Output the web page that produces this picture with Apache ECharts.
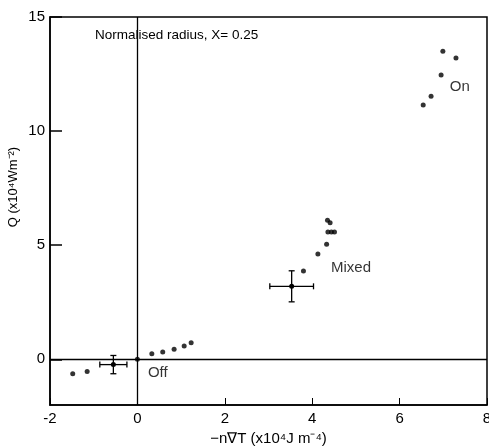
<!DOCTYPE html>
<html><head><meta charset="utf-8">
<script src="https://cdn.jsdelivr.net/npm/echarts@6/dist/echarts.min.js"></script>
<style>html,body{margin:0;padding:0;background:#fff}#c{width:489px;height:447px}</style>
</head><body><div id="c"></div>
<script>
const xTicks = [-2, 0, 2, 4, 6, 8];
const yTicks = [0, 5, 10, 15];
const offPoints = [[-1.48, -0.63], [-1.15, -0.53], [0, 0], [0.33, 0.25], [0.58, 0.32], [0.84, 0.44], [1.07, 0.58], [1.23, 0.73]];
const mixedPoints = [[3.80, 3.87], [4.13, 4.62], [4.33, 5.04], [4.36, 5.58], [4.44, 5.58], [4.51, 5.58], [4.35, 6.10], [4.41, 5.98]];
const onPoints = [[6.54, 11.14], [6.72, 11.53], [6.95, 12.46], [6.99, 13.5], [7.29, 13.2]];
// error bars: [x, y, xErr, yErr]
const errorBars = [[-0.55, -0.23, 0.31, 0.40], [3.53, 3.20, 0.50, 0.68]];
const groupLabels = [["On", 7.15, 11.93], ["Mixed", 4.43, 4.03], ["Off", 0.24, -0.61]];

const chart = echarts.init(document.getElementById('c'));
const font = 'Liberation Sans, Arial, sans-serif';
const dot = {type: 'scatter', symbol: 'circle', symbolSize: 5, itemStyle: {color: '#000'}, silent: true};
chart.setOption({
  animation: false,
  textStyle: {fontFamily: font},
  grid: {left: 50, right: 2, top: 17, bottom: 42, show: true, borderColor: '#000', borderWidth: 1.5, outerBoundsMode: 'none', containLabel: false},
  xAxis: {
    type: 'value', min: -2, max: 8,
    axisLine: {onZero: false, lineStyle: {color: '#000', width: 1.5}},
    axisTick: {inside: true, length: 7, customValues: xTicks, lineStyle: {color: '#000'}},
    axisLabel: {customValues: xTicks, color: '#000', fontSize: 15, margin: 6},
    splitLine: {show: false},
    name: '\u2212n\u2207T (x10\u2074J m\u207B\u2074)', nameLocation: 'middle', nameGap: 23,
    nameTextStyle: {color: '#000', fontSize: 15}
  },
  yAxis: {
    type: 'value', min: -2, max: 15,
    axisLine: {onZero: false, lineStyle: {color: '#000', width: 1.5}},
    axisTick: {inside: true, length: 12, customValues: yTicks, lineStyle: {color: '#000', width: 1.5}},
    axisLabel: {customValues: yTicks, color: '#000', fontSize: 15, margin: 5},
    splitLine: {show: false}
  },
  series: [
    Object.assign({}, dot, {data: offPoints,
      markLine: {silent: true, symbol: 'none', label: {show: false},
        lineStyle: {color: '#000', width: 1.3, type: 'solid'},
        data: [{xAxis: 0}, {yAxis: 0}]}}),
    Object.assign({}, dot, {data: mixedPoints}),
    Object.assign({}, dot, {data: onPoints}),
    {
      type: 'custom', silent: true, data: errorBars,
      renderItem: function (params, api) {
        const x = api.value(0), y = api.value(1), dx = api.value(2), dy = api.value(3);
        const c = api.coord([x, y]);
        const l = api.coord([x - dx, y]), r = api.coord([x + dx, y]);
        const t = api.coord([x, y + dy]), b = api.coord([x, y - dy]);
        const cap = 3;
        const st = {stroke: '#000', lineWidth: 1.3};
        return {type: 'group', children: [
          {type: 'line', shape: {x1: l[0], y1: l[1], x2: r[0], y2: r[1]}, style: st},
          {type: 'line', shape: {x1: t[0], y1: t[1], x2: b[0], y2: b[1]}, style: st},
          {type: 'line', shape: {x1: l[0], y1: l[1] - cap, x2: l[0], y2: l[1] + cap}, style: st},
          {type: 'line', shape: {x1: r[0], y1: r[1] - cap, x2: r[0], y2: r[1] + cap}, style: st},
          {type: 'line', shape: {x1: t[0] - cap, y1: t[1], x2: t[0] + cap, y2: t[1]}, style: st},
          {type: 'line', shape: {x1: b[0] - cap, y1: b[1], x2: b[0] + cap, y2: b[1]}, style: st},
          {type: 'circle', shape: {cx: c[0], cy: c[1], r: 2.5}, style: {fill: '#000'}}
        ]};
      }
    },
    {
      type: 'scatter', silent: true, symbolSize: 0,
      data: groupLabels.map(g => ({value: [g[1], g[2]], name: g[0]})),
      label: {show: true, position: 'right', distance: 0, formatter: p => p.name,
        color: '#000', fontSize: 15, fontFamily: font}
    }
  ],
  graphic: [
    {type: 'text', left: 95, top: 28, style: {text: 'Normalised radius, X= 0.25', font: '13.5px ' + font, fill: '#000'}},
    {type: 'text', x: 13, y: 187, rotation: Math.PI / 2,
      style: {text: 'Q (x10\u2074Wm\u207B\u00B2)', font: '13px ' + font, fill: '#000', align: 'center', verticalAlign: 'middle'}}
  ]
});
</script></body></html>
